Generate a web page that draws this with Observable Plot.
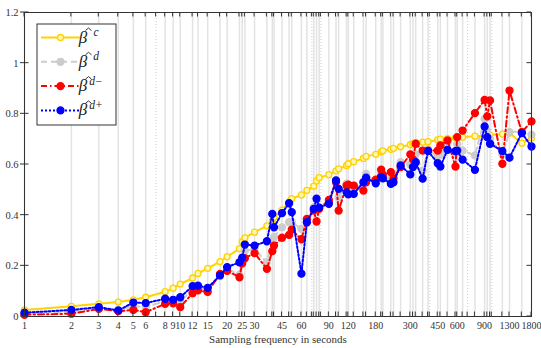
<!DOCTYPE html>
<html><head><meta charset="utf-8">
<script src="https://cdn.jsdelivr.net/npm/d3@7"></script>
<script src="https://cdn.jsdelivr.net/npm/@observablehq/plot@0.6"></script>
<style>body{margin:0;background:#fff} svg{display:block}</style>
</head><body><div id="chart"></div>
<script>
const freqs = [1,2,3,4,5,6,8,9,10,12,13,15,18,20,24,25,26,30,36,39,40,45,50,52,60,65,72,75,78,90,100,104,117,120,130,150,156,180,195,200,225,234,260,300,312,325,360,390,450,468,520,585,600,650,780,900,936,975,1170,1300,1560,1800];
const betaC = [0.026,0.040,0.050,0.057,0.066,0.076,0.098,0.112,0.128,0.152,
 0.170,0.190,0.217,0.236,0.268,0.295,0.310,0.333,0.358,0.378,
 0.392,0.420,0.452,0.465,0.480,0.498,0.515,0.535,0.548,0.560,
 0.575,0.583,0.596,0.603,0.611,0.624,0.632,0.640,0.650,0.654,
 0.660,0.664,0.670,0.678,0.682,0.686,0.688,0.690,0.697,0.700,
 0.702,0.705,0.706,0.708,0.712,0.713,0.715,0.716,0.720,0.724,
 0.684,0.705];
const betaD = [0.012,0.020,0.033,0.024,0.040,0.038,0.060,0.058,0.060,0.105,
 0.112,0.105,0.165,0.188,0.165,0.225,0.260,0.265,0.214,0.300,
 0.313,0.352,0.372,0.372,0.346,0.370,0.432,0.420,0.430,0.455,
 0.537,0.470,0.524,0.510,0.500,0.530,0.563,0.530,0.570,0.555,
 0.545,0.550,0.609,0.600,0.610,0.640,0.576,0.660,0.630,0.640,
 0.680,0.640,0.680,0.655,0.636,0.780,0.732,0.700,0.640,0.728,
 0.730,0.718];
const betaDminus = [0.007,0.011,0.030,0.021,0.026,0.017,0.050,0.052,0.037,0.092,
 0.103,0.097,0.168,0.180,0.155,0.210,0.230,0.250,0.188,0.258,
 0.280,0.311,0.322,0.343,0.305,0.385,0.418,0.375,0.425,0.460,
 0.530,0.418,0.517,0.520,0.517,0.497,0.530,0.540,0.580,0.560,
 0.570,0.545,0.590,0.640,0.620,0.682,0.655,0.655,0.655,0.675,
 0.695,0.592,0.708,0.734,0.803,0.855,0.790,0.853,0.603,0.892,
 0.728,0.770];
const betaDplus = [0.015,0.026,0.037,0.024,0.055,0.053,0.070,0.066,0.076,0.120,
 0.122,0.113,0.162,0.195,0.214,0.232,0.284,0.280,0.297,0.405,
 0.352,0.408,0.447,0.412,0.169,0.372,0.425,0.465,0.430,0.445,
 0.537,0.504,0.490,0.482,0.484,0.530,0.548,0.526,0.550,0.545,
 0.524,0.530,0.596,0.561,0.590,0.609,0.544,0.653,0.605,0.592,
 0.658,0.653,0.655,0.619,0.579,0.750,0.708,0.682,0.653,0.627,
 0.724,0.671];
const xTickLabels = [1,2,3,4,5,6,8,9,10,12,15,20,25,30,45,60,90,120,180,300,450,600,900,1300,1800];
const yTicks = [0,0.2,0.4,0.6,0.8,1,1.2];
const dottedFreqs = [7,70,80,400,700,1000];
const xLabel = "Sampling frequency in seconds";
const legendSup = ["c","d","d\u2212","d+"];

const FONT = "'Liberation Serif','Times New Roman','DejaVu Serif',serif";
const styles = [
  {stroke:"#ffd200", dash:null, fill:"#fff6b8", mstroke:"#ffd200", r:3},
  {stroke:"#cccccc", dash:"6,4", fill:"#cccccc", mstroke:"#cccccc", r:3.5},
  {stroke:"#ff0000", dash:"6,3,1.5,3", fill:"#ff0000", mstroke:"#ff0000", r:3.5},
  {stroke:"#0000ff", dash:"2,2", fill:"#0000ff", mstroke:"#0000ff", r:3.5}
];
const series = [betaC, betaD, betaDminus, betaDplus].map(vals => freqs.map((f,i)=>({f, v: vals[i]})));

const marks = [
  Plot.ruleX(freqs, {stroke:"#e3e3e3", strokeWidth:1.5}),
  Plot.ruleX(dottedFreqs, {stroke:"#cfcfcf", strokeWidth:1, strokeDasharray:"1,2"}),
  Plot.text(xTickLabels, {x: d => d, frameAnchor: "bottom", dy: 5, lineAnchor: "top", text: d => String(d), fontSize: 10, fill: "#333"}),
  Plot.text([xLabel], {frameAnchor: "bottom", dy: 19, lineAnchor: "top", text: d => d, fontSize: 11, fill: "#333"}),
  Plot.text(yTicks, {y: d => d, frameAnchor: "left", dx: -6, textAnchor: "end", text: d => String(d), fontSize: 10.5, fill: "#333"}),
];
series.forEach((data, k) => {
  const s = styles[k];
  marks.push(Plot.line(data, {x:"f", y:"v", stroke:s.stroke, strokeWidth:2, strokeDasharray:s.dash}));
  marks.push(Plot.dot(data, {x:"f", y:"v", r:s.r, fill:s.fill, stroke:s.mstroke, strokeWidth:1.3}));
});
marks.push(Plot.frame({stroke:"#333", strokeWidth:1}));

const plot = Plot.plot({
  width: 541, height: 348,
  marginLeft: 24, marginRight: 10, marginTop: 12, marginBottom: 32,
  style: {fontFamily: FONT, fontSize: "10px", background: "#fff", color: "#333"},
  x: {type: "log", domain: [1, 1800], axis: null},
  y: {domain: [0, 1.2], axis: null},
  marks
});
document.getElementById("chart").appendChild(plot);

// inward ticks using the plot's scales
const sx = plot.scale("x"), sy = plot.scale("y");
const svg = d3.select(plot);
const x0 = sx.apply(1), x1 = sx.apply(1800), y0 = sy.apply(0), y1 = sy.apply(1.2);
const tg = svg.append("g").attr("stroke", "#333").attr("stroke-width", 1);
[...freqs, ...dottedFreqs].forEach(f => {
  const x = sx.apply(f);
  tg.append("line").attr("x1", x).attr("x2", x).attr("y1", y0).attr("y2", y0 - 4.5);
  tg.append("line").attr("x1", x).attr("x2", x).attr("y1", y1).attr("y2", y1 + 4.5);
});
yTicks.forEach(t => {
  const y = sy.apply(t);
  tg.append("line").attr("x1", x0 - 4).attr("x2", x0 + 4.5).attr("y1", y).attr("y2", y);
  tg.append("line").attr("x1", x1).attr("x2", x1 - 4.5).attr("y1", y).attr("y2", y);
});

// legend
const lg = svg.append("g").attr("transform", "translate(37,24)");
lg.append("rect").attr("width", 79).attr("height", 101).attr("fill", "#fff").attr("stroke", "#333").attr("stroke-width", 1);
styles.forEach((s, k) => {
  const cy = 13.5 + k * 24.3;
  lg.append("line").attr("x1", 4).attr("x2", 43).attr("y1", cy).attr("y2", cy)
    .attr("stroke", s.stroke).attr("stroke-width", 2).attr("stroke-dasharray", s.dash);
  lg.append("circle").attr("cx", 23.5).attr("cy", cy).attr("r", s.r).attr("fill", s.fill)
    .attr("stroke", s.mstroke).attr("stroke-width", 1.3);
  const g = lg.append("g").attr("font-family", FONT).attr("fill", "#222").attr("font-style", "italic");
  g.append("text").attr("x", 46).attr("y", cy + 5).attr("font-size", 17).text("\u03B2");
  lg.append("path").attr("d", `M${48.5},${cy - 7}L${51.5},${cy - 9.5}L${54.5},${cy - 7}`)
    .attr("fill", "none").attr("stroke", "#222").attr("stroke-width", 0.9);
  g.append("text").attr("x", 59).attr("y", cy - 1.5).attr("font-size", 11.5).text(legendSup[k]);
});
</script></body></html>
